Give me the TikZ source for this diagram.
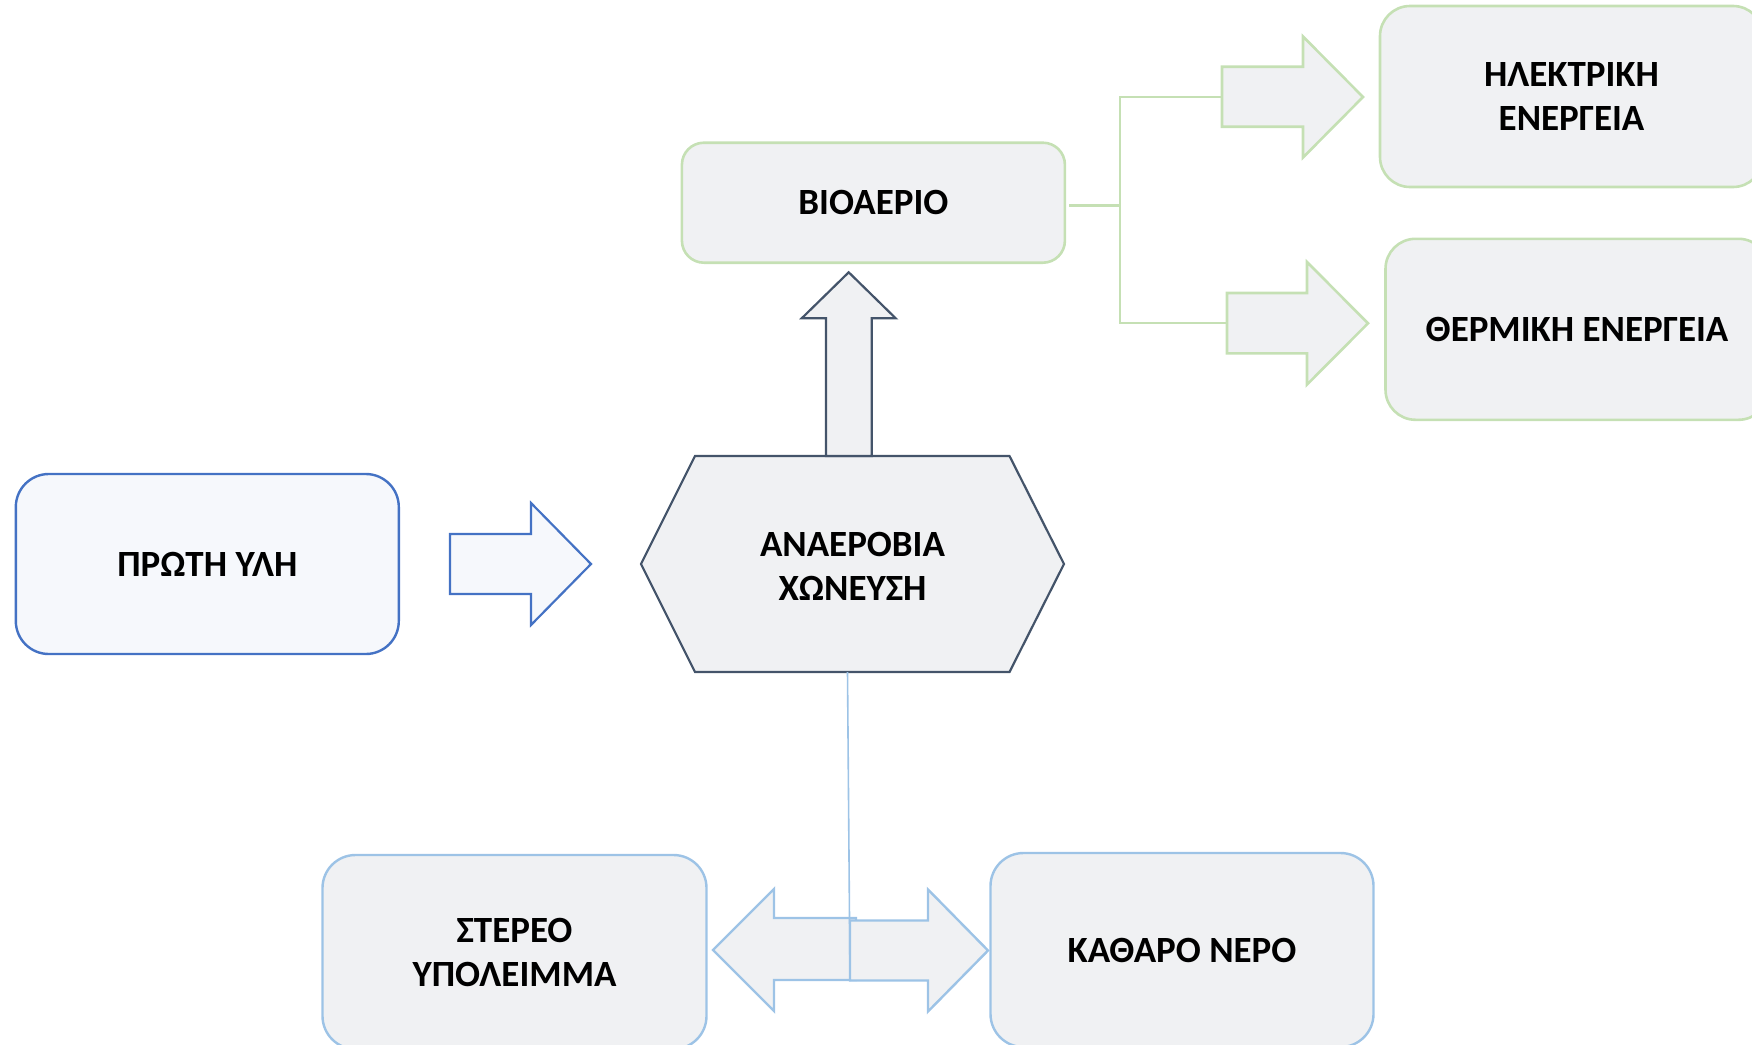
\documentclass[tikz,border=0pt]{standalone}
\usepackage{fontspec}
\setmainfont{Carlito}
\definecolor{gborder}{HTML}{C5E0B4}
\definecolor{lborder}{HTML}{9DC3E6}
\definecolor{bborder}{HTML}{4472C4}
\definecolor{dborder}{HTML}{44546A}
\definecolor{grayfill}{HTML}{F0F1F3}
\definecolor{bluefill}{HTML}{F6F8FC}
\begin{document}
\begin{tikzpicture}[x=1pt,y=-1pt,
  boxbase/.style={draw, rectangle, align=center, inner sep=0pt,
    minimum width=383pt, font=\fontsize{37}{44}\selectfont\bfseries},
  gbox/.style={boxbase, draw=gborder, fill=grayfill, line width=2.6pt},
  lbox/.style={boxbase, draw=lborder, fill=grayfill, line width=2.4pt},
  bbox/.style={boxbase, draw=bborder, fill=bluefill, line width=2.4pt},
  garrow/.style={draw=gborder, fill=grayfill, line width=2.6pt, line join=miter},
  larrow/.style={draw=lborder, fill=grayfill, line width=2.4pt, line join=miter},
  barrow/.style={draw=bborder, fill=bluefill, line width=2.2pt, line join=miter},
  darrow/.style={draw=dborder, fill=grayfill, line width=2.2pt, line join=miter},
  gline/.style={draw=gborder, line width=2.2pt},
  lline/.style={draw=lborder, line width=1.6pt},
  txt/.style={align=center, inner sep=0pt, font=\fontsize{37}{44}\selectfont\bfseries}
]
\useasboundingbox (0,0) rectangle (1752,1044);

% boxes
\node[bbox, minimum height=180pt, rounded corners=33pt] (prwth) at (207.3,564) {ΠΡΩΤΗ ΥΛΗ};
\node[gbox, minimum height=120pt, rounded corners=22pt] (bio) at (873.4,202.7) {ΒΙΟΑΕΡΙΟ};
\node[gbox, minimum height=181pt, rounded corners=30pt] (elec) at (1571.5,96.5) {ΗΛΕΚΤΡΙΚΗ\\ΕΝΕΡΓΕΙΑ};
\node[gbox, minimum height=181pt, rounded corners=30pt] (therm) at (1577,329.3) {ΘΕΡΜΙΚΗ ΕΝΕΡΓΕΙΑ};
\node[lbox, minimum width=384pt, minimum height=194pt, rounded corners=33pt] (stereo) at (514.5,952) {ΣΤΕΡΕΟ\\ΥΠΟΛΕΙΜΜΑ};
\node[lbox, minimum width=383pt, minimum height=194pt, rounded corners=33pt] (nero) at (1182,950) {ΚΑΘΑΡΟ ΝΕΡΟ};

% hexagon
\draw[darrow] (695,456) -- (1009.5,456) -- (1064,564) -- (1009.5,672) -- (695,672) -- (641,564) -- cycle;
\coordinate (hexbot) at (847.5,672);
\node[txt] (hex) at (852.5,566) {ΑΝΑΕΡΟΒΙΑ\\ΧΩΝΕΥΣΗ};

% up arrow (hexagon -> bio)
\draw[darrow] (826,456) -- (826,318.3) -- (801.7,318.3) -- (848.7,272.3) -- (895.7,318.3) -- (871.7,318.3) -- (871.7,456) -- cycle;

% blue arrow (prwth -> hexagon)
\draw[barrow] (450,534) -- (531,534) -- (531,503) -- (591,564) -- (531,625) -- (531,594) -- (450,594) -- cycle;

% green arrows
\coordinate (ga1) at (1222,96.7);
\coordinate (ga2) at (1227,323.3);
\draw[garrow] (1222,66.7) -- (1303,66.7) -- (1303,36.5) -- (1363,97) -- (1303,157.5) -- (1303,126.7) -- (1222,126.7) -- cycle;
\draw[garrow] (1227,293) -- (1307,293) -- (1307,262) -- (1368,323.3) -- (1307,384.6) -- (1307,353.3) -- (1227,353.3) -- cycle;

% green connectors
\coordinate (gsplit) at (1120,205.5);
\draw[gline] ([xshift=3pt]bio.east |- gsplit) -- (gsplit);
\draw[gline] (gsplit) |- (ga1);
\draw[gline] (gsplit) |- (ga2);

% bottom arrows
\draw[larrow] (856,918) -- (774,918) -- (774,889) -- (713,950) -- (774,1011) -- (774,980) -- (856,980) -- cycle;
\draw[larrow] (850,920.5) -- (928,920.5) -- (928,889.5) -- (988,950.5) -- (928,1011.5) -- (928,980.5) -- (850,980.5) -- cycle;

% blue line from hexagon down
\coordinate (lend) at (850,981);
\draw[lline] (hexbot) -- (lend);
\end{tikzpicture}
\end{document}
